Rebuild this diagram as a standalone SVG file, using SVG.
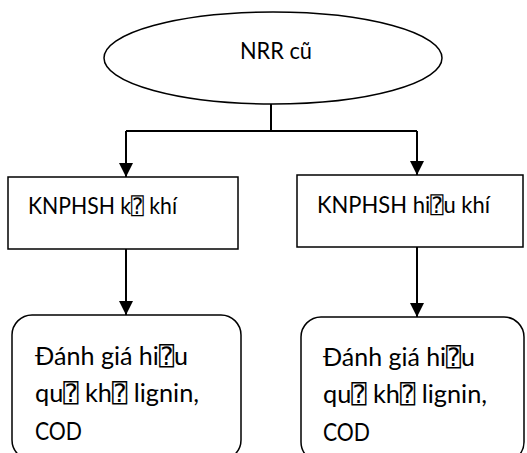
<svg xmlns="http://www.w3.org/2000/svg" width="527" height="453" viewBox="0 0 527 453">
<style>
  .shape { fill: #fff; stroke: #000; stroke-width: 1.5; }
  .conn { fill: none; stroke: #000; stroke-width: 2; }
  .t { font-family: Lato, "DejaVu Sans Mono", "DejaVu Sans", sans-serif; font-size: 22.5px; fill: #000; }
  .b { font-size: 25px; }
</style>
<defs>
  <marker id="arrow" markerUnits="userSpaceOnUse" markerWidth="14" markerHeight="14" refX="14" refY="7" orient="auto">
    <path d="M0,0 L14,7 L0,14 z" fill="#000"/>
  </marker>
</defs>
<rect width="527" height="453" fill="#fff"/>
<g id="connectors">
  <path class="conn" d="M271,104 V131"/>
  <path class="conn" d="M126,131 H417"/>
  <path class="conn" d="M126,131 V177" marker-end="url(#arrow)"/>
  <path class="conn" d="M417,131 V175" marker-end="url(#arrow)"/>
  <path class="conn" d="M126,249 V315" marker-end="url(#arrow)"/>
  <path class="conn" d="M417,247 V317" marker-end="url(#arrow)"/>
</g>
<g id="node-nrr">
  <ellipse class="shape" cx="273" cy="58" rx="169" ry="46"/>
  <text class="t" x="240" y="59" textLength="72" lengthAdjust="spacingAndGlyphs">NRR cũ</text>
</g>
<g id="node-kyk">
  <rect class="shape" x="8" y="177" width="230" height="72"/>
  <text class="t" x="28" y="214" textLength="149" lengthAdjust="spacingAndGlyphs">KNPHSH k⍰ khí</text>
</g>
<g id="node-hieuk">
  <rect class="shape" x="297" y="175" width="226" height="72"/>
  <text class="t" x="317" y="213" textLength="173" lengthAdjust="spacingAndGlyphs">KNPHSH hi⍰u khí</text>
</g>
<g id="node-eval-left">
  <rect class="shape" x="12" y="315" width="229" height="145" rx="20"/>
  <text class="t b" x="35" y="365" textLength="153" lengthAdjust="spacingAndGlyphs">Đánh giá hi⍰u</text>
  <text class="t b" x="35" y="402" textLength="164" lengthAdjust="spacingAndGlyphs">qu⍰ kh⍰  lignin,</text>
  <text class="t b" x="35" y="440" textLength="47" lengthAdjust="spacingAndGlyphs">COD</text>
</g>
<g id="node-eval-right">
  <rect class="shape" x="301" y="317" width="223" height="145" rx="20"/>
  <text class="t b" x="323" y="366" textLength="152" lengthAdjust="spacingAndGlyphs">Đánh giá hi⍰u</text>
  <text class="t b" x="323" y="403" textLength="164" lengthAdjust="spacingAndGlyphs">qu⍰ kh⍰  lignin,</text>
  <text class="t b" x="323" y="441" textLength="47" lengthAdjust="spacingAndGlyphs">COD</text>
</g>
</svg>
